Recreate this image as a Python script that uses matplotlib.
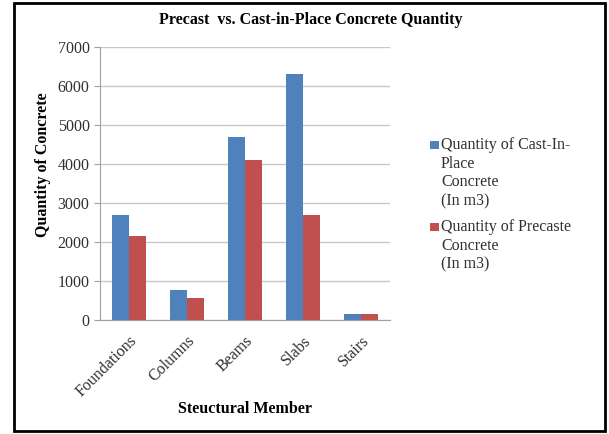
import matplotlib
matplotlib.use("Agg")
import matplotlib.pyplot as plt
import numpy as np
from matplotlib.patches import Rectangle

categories = ["Foundations", "Columns", "Beams", "Slabs", "Stairs"]
cast_in_place = [2680, 770, 4700, 6300, 150]
precast = [2150, 570, 4100, 2680, 150]
series_labels = [["Quantity of Cast-In-", "Place", "Concrete", "(In m3)"],
                 ["Quantity of Precaste", "Concrete", "(In m3)"]]
yticks = [0, 1000, 2000, 3000, 4000, 5000, 6000, 7000]

plt.rcParams['font.family'] = ['Liberation Serif', 'DejaVu Serif']
FS = 11.5
TXT = "#303030"

fig = plt.figure(figsize=(6.09, 4.34), dpi=100)
ax = fig.add_axes([100/609, 1-320/434, 290/609, 273/434])

x = np.arange(len(categories))
w = 0.29
blue = "#4f81bd"
red = "#c0504d"
colors = [blue, red]
ax.bar(x - w/2, cast_in_place, w, color=blue, zorder=3)
ax.bar(x + w/2, precast, w, color=red, zorder=3)

ax.set_xlim(-0.5, len(categories) - 0.5)
ax.set_ylim(0, 7000)
ax.set_yticks(yticks)
ax.set_yticklabels([str(t) for t in yticks], fontsize=FS, color=TXT)
ax.yaxis.grid(True, color="#c8c8c8", linewidth=1, zorder=0)
ax.set_xticks(x)
ax.set_xticklabels(categories, rotation=45, ha="right", rotation_mode="anchor",
                   fontsize=FS, color=TXT)
ax.tick_params(axis="x", length=0, pad=9)
ax.tick_params(axis="y", length=4, color="#a0a0a0", pad=3.5)
for s in ["top", "right"]:
    ax.spines[s].set_visible(False)
ax.spines["left"].set_color("#a0a0a0")
ax.spines["bottom"].set_color("#a0a0a0")

fig.text(43/609, 1-165/434, "Quantity of Concrete", rotation=90, ha="center", va="center",
         fontsize=FS, fontweight="bold", color="black")
fig.text(245/609, 1-409/434, "Steuctural Member", ha="center", va="center",
         fontsize=FS, fontweight="bold", color="black")
fig.text(311/609, 1-20/434, "Precast  vs. Cast-in-Place Concrete Quantity",
         ha="center", va="center", fontsize=FS, fontweight="bold")

# legend (Excel style: marker aligned with first line)
starts = [145, 227]
line_h = 18.7
for lines, col, y0 in zip(series_labels, colors, starts):
    fig.patches.append(Rectangle((430/609, 1-(y0+4)/434), 9/609, 8/434,
                                 transform=fig.transFigure, facecolor=col, edgecolor="none"))
    for i, ln in enumerate(lines):
        fig.text(441/609, 1-(y0 + i*line_h)/434, ln, ha="left", va="center",
                 fontsize=FS, color=TXT)

fig.patches.append(Rectangle((14/609, 3/434), (605-14)/609, (431-3)/434,
                             transform=fig.transFigure, fill=False,
                             edgecolor="black", linewidth=2))

fig.savefig("out.png", dpi=100)
